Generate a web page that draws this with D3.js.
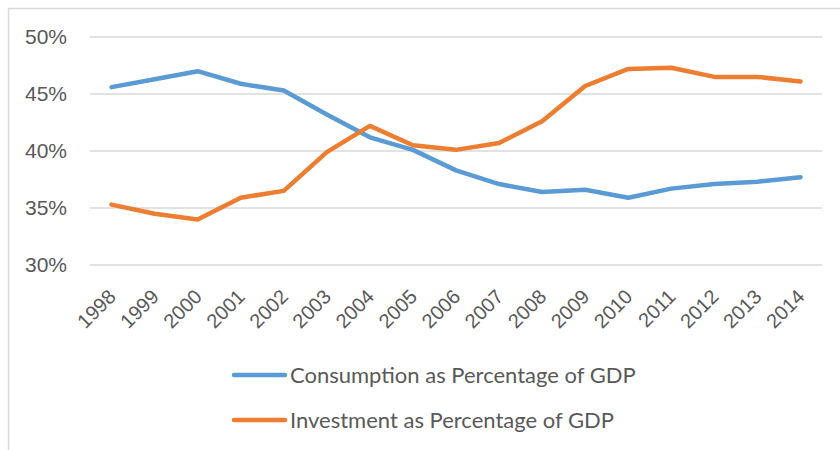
<!DOCTYPE html>
<html>
<head>
<meta charset="utf-8">
<script src="https://cdn.jsdelivr.net/npm/d3@7"></script>
<style>
  body { margin: 0; background: #fff; }
  svg { display: block; font-family: Lato, "Open Sans", sans-serif; }
</style>
</head>
<body>
<div id="chart"></div>
<script>
const years = ["1998", "1999", "2000", "2001", "2002", "2003", "2004", "2005", "2006",
  "2007", "2008", "2009", "2010", "2011", "2012", "2013", "2014"];
const consumption = [45.6, 46.3, 47.0, 45.9, 45.3, 43.2, 41.2, 40.1, 38.3, 37.1,
  36.4, 36.6, 35.9, 36.7, 37.1, 37.3, 37.7];
const investment = [35.3, 34.5, 34.0, 35.9, 36.5, 39.9, 42.2, 40.5, 40.1, 40.7,
  42.6, 45.7, 47.2, 47.3, 46.5, 46.5, 46.1];
const yTicks = [30, 35, 40, 45, 50];
const seriesNames = ["Consumption as Percentage of GDP", "Investment as Percentage of GDP"];
const colors = ["#5B9BD5", "#ED7D31"];

const w = 840;
const h = 450;
const plotLeft = 90, plotRight = 822, plotTop = 37, plotBottom = 265;
const textColor = "#595959";

const svg = d3.select("#chart").append("svg").attr("width", w).attr("height", h);

// borde del area del grafico
svg.append("rect")
  .attr("x", 8.5).attr("y", 8.5)
  .attr("width", w).attr("height", h)
  .attr("fill", "none").attr("stroke", "#d9d9d9").attr("stroke-width", 1.5);

// Escalas
const xScale = d3.scalePoint().domain(years).range([plotLeft, plotRight]).padding(0.5);
const yScale = d3.scaleLinear().domain([30, 50]).range([plotBottom, plotTop]);

// rejilla
svg.append("g")
  .selectAll("line")
  .data(yTicks)
  .join("line")
  .attr("x1", plotLeft).attr("x2", plotRight)
  .attr("y1", (d) => yScale(d)).attr("y2", (d) => yScale(d))
  .attr("stroke", "#d9d9d9").attr("stroke-width", 1.5);

// Ejes
const yAxis = d3.axisLeft(yScale).tickValues(yTicks).tickSize(0).tickPadding(23)
  .tickFormat((d) => d + "%");
svg.append("g")
  .attr("transform", `translate(${plotLeft},0)`)
  .call(yAxis)
  .call((g) => g.select(".domain").remove())
  .selectAll("text")
  .attr("fill", textColor)
  .style("font-size", "21px");

const xAxis = d3.axisBottom(xScale).tickSize(0);
svg.append("g")
  .attr("transform", `translate(0,${plotBottom})`)
  .call(xAxis)
  .call((g) => g.select(".domain").remove())
  .selectAll("text")
  .attr("y", 0).attr("dy", 0)
  .attr("transform", "translate(5,33) rotate(-45)")
  .attr("text-anchor", "end")
  .attr("fill", textColor)
  .style("font-size", "20px");

// Lineas
const line = d3.line()
  .x((d, i) => xScale(years[i]))
  .y((d) => yScale(d));

[consumption, investment].forEach((values, i) => {
  svg.append("path")
    .datum(values)
    .attr("d", line)
    .attr("fill", "none")
    .attr("stroke", colors[i])
    .attr("stroke-width", 4.5)
    .attr("stroke-linejoin", "round")
    .attr("stroke-linecap", "round");
});

// Leyenda
const legend = svg.append("g");
seriesNames.forEach((name, i) => {
  const y = 375 + i * 45;
  legend.append("line")
    .attr("x1", 234).attr("x2", 285)
    .attr("y1", y).attr("y2", y)
    .attr("stroke", colors[i]).attr("stroke-width", 4.5)
    .attr("stroke-linecap", "round");
  legend.append("text")
    .attr("x", 290).attr("y", y)
    .attr("dy", "0.35em")
    .attr("fill", textColor)
    .style("font-size", "22px")
    .text(name);
});
</script>
</body>
</html>
